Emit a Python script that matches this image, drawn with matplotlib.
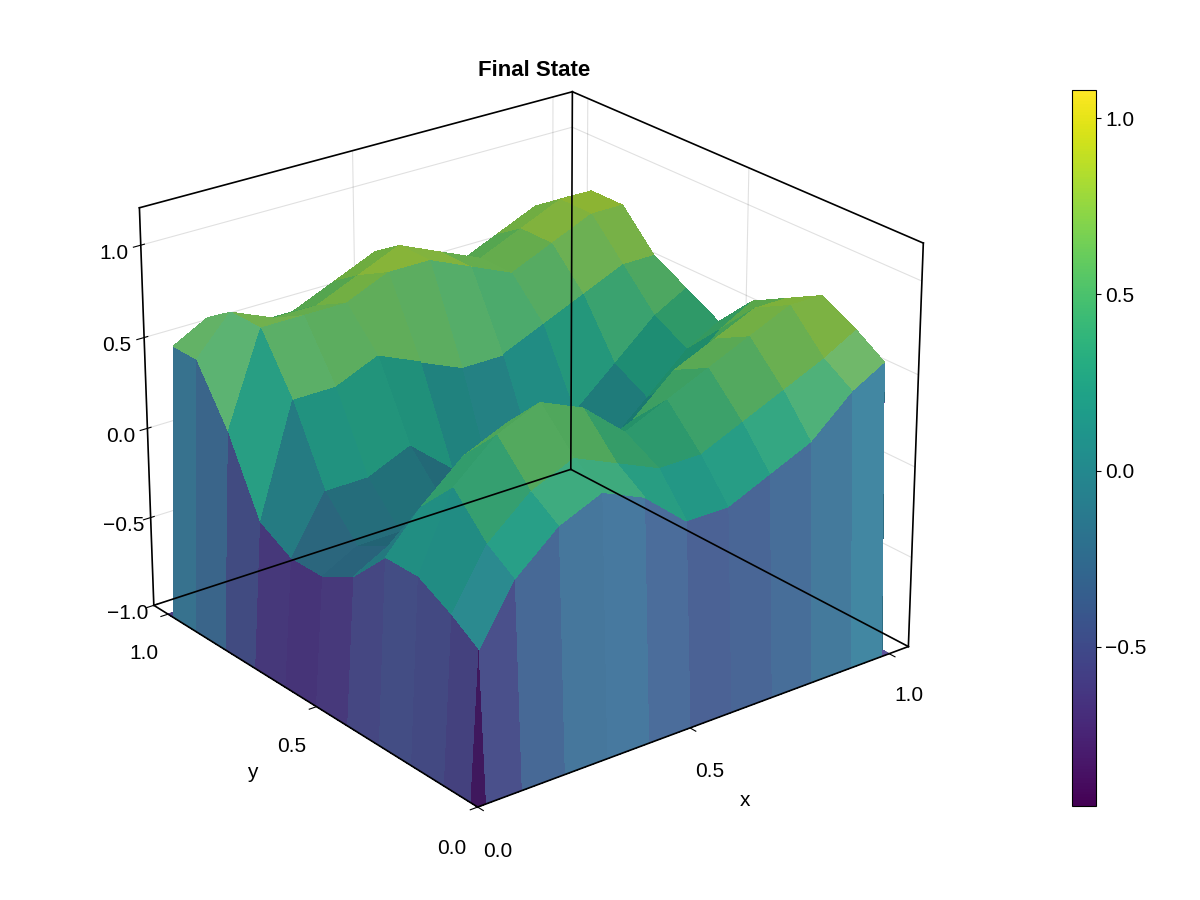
import numpy as np
import matplotlib
matplotlib.use("Agg")
import matplotlib.pyplot as plt
from matplotlib import cm, colors
from matplotlib.colors import LightSource

# grid coordinates (walls at the edges are very steep)
x_vals = [0.0, 0.02, 0.1, 0.2, 0.3, 0.4, 0.5, 0.6, 0.7, 0.8, 0.9, 0.98, 1.0]
y_vals = [0.0, 0.02, 0.1, 0.2, 0.3, 0.4, 0.5, 0.6, 0.7, 0.8, 0.9, 0.98, 1.0]

# z[i][j] : row = x index, column = y index
z_rows = [
    [-1, -1, -1, -1, -1, -1, -1, -1, -1, -1, -1, -1, -1],
    [-1, -0.2, -0.1, 0.0, 0.0, -0.2, -0.3, -0.3, -0.2, 0.2, 0.5, 0.5, -1],
    [-1, 0.1, 0.2, 0.4, 0.2, -0.1, -0.2, 0.0, 0.4, 0.7, 0.7, 0.6, -1],
    [-1, 0.3, 0.4, 0.6, 0.4, 0.0, -0.2, 0.0, 0.4, 0.7, 0.6, 0.5, -1],
    [-1, 0.4, 0.5, 0.7, 0.5, 0.1, -0.1, 0.1, 0.5, 0.7, 0.6, 0.5, -1],
    [-1, 0.3, 0.4, 0.6, 0.4, 0.0, -0.3, -0.1, 0.4, 0.8, 0.7, 0.6, -1],
    [-1, 0.1, 0.3, 0.4, 0.2, -0.3, -0.5, -0.3, 0.3, 0.8, 0.8, 0.7, -1],
    [-1, 0.1, 0.3, 0.5, 0.3, -0.2, -0.4, -0.2, 0.3, 0.7, 0.7, 0.6, -1],
    [-1, 0.2, 0.4, 0.6, 0.5, 0.1, -0.1, 0.0, 0.4, 0.6, 0.6, 0.5, -1],
    [-1, 0.3, 0.5, 0.7, 0.6, 0.3, 0.1, 0.2, 0.5, 0.7, 0.7, 0.6, -1],
    [-1, 0.5, 0.6, 0.8, 0.7, 0.5, 0.3, 0.4, 0.6, 0.8, 0.8, 0.7, -1],
    [-1, 0.6, 0.7, 0.8, 0.7, 0.6, 0.4, 0.5, 0.6, 0.8, 0.8, 0.7, -1],
    [-1, -1, -1, -1, -1, -1, -1, -1, -1, -1, -1, -1, -1],
]

X, Y = np.meshgrid(x_vals, y_vals, indexing="ij")
Z = np.array(z_rows, dtype=float)

plt.rcParams["font.family"] = ["Liberation Sans", "DejaVu Sans"]
plt.rcParams["font.size"] = 15

fig = plt.figure(figsize=(12, 9), dpi=100)
ax = fig.add_axes([-0.03, 0.03, 0.92, 0.96], projection="3d")

norm = colors.Normalize(vmin=-0.95, vmax=1.08)
cmap = cm.viridis
# colour each facet by the mean of its corners
Zc = Z.copy()
Zc[:-1, :-1] = (Z[:-1, :-1] + Z[1:, :-1] + Z[:-1, 1:] + Z[1:, 1:]) / 4
ls = LightSource(azdeg=300, altdeg=35)
fc = ls.shade_rgb(cmap(norm(Zc))[..., :3], Z, blend_mode="soft", vert_exag=0.15)
fc = fc * 0.8
ax.plot_surface(X, Y, Z, facecolors=fc, rstride=1, cstride=1,
                linewidth=0, antialiased=False, shade=False)

xl, yl, zl = (0, 1.05), (0, 1.05), (-1.0, 1.2)
# frame edges of the back panes (skip edges meeting the front-top corner)
front = np.array([xl[0], yl[0], zl[1]])
for a in xl:
    for b in yl:
        for c in zl:
            p = np.array([a, b, c])
            for k, lim in enumerate((xl, yl, zl)):
                if p[k] == lim[0]:
                    q = p.copy()
                    q[k] = lim[1]
                    if (p == front).all() or (q == front).all():
                        continue
                    ax.plot(*zip(p, q), color="black", lw=1.2, zorder=10)

ax.view_init(elev=24, azim=-128)
ax.set_box_aspect((1, 1, 0.8), zoom=1.0)
ax.set_xlim(*xl)
ax.set_ylim(*yl)
ax.set_zlim(*zl)
ax.set_xticks([0.0, 0.5, 1.0])
ax.set_yticks([0.0, 0.5, 1.0])
ax.set_zticks([-1.0, -0.5, 0.0, 0.5, 1.0])
ax.set_xticklabels(["0.0", "0.5", "1.0"])
ax.set_yticklabels(["0.0", "0.5", "1.0"])
ax.set_zticklabels(["−1.0", "−0.5", "0.0", "0.5", "1.0"])
ax.tick_params(axis="x", pad=10)
ax.tick_params(axis="y", pad=10)
ax.set_xlabel("x", labelpad=20)
ax.set_ylabel("y", labelpad=20)
for a in (ax.xaxis, ax.yaxis, ax.zaxis):
    a.set_pane_color((1, 1, 1, 0))
    a.line.set_color((0, 0, 0, 0))
    a._axinfo["grid"]["color"] = (0, 0, 0, 0.12)
    a._axinfo["grid"]["linewidth"] = 0.8
fig.text(0.445, 0.916, "Final State", fontweight="bold", fontsize=16, ha="center")

cax = fig.add_axes([0.893, 0.105, 0.02, 0.795])
sm = cm.ScalarMappable(norm=norm, cmap=cmap)
cb = fig.colorbar(sm, cax=cax)
cb.set_ticks([-0.5, 0.0, 0.5, 1.0])
cb.set_ticklabels(["−0.5", "0.0", "0.5", "1.0"])

fig.savefig("out.png", dpi=100)
